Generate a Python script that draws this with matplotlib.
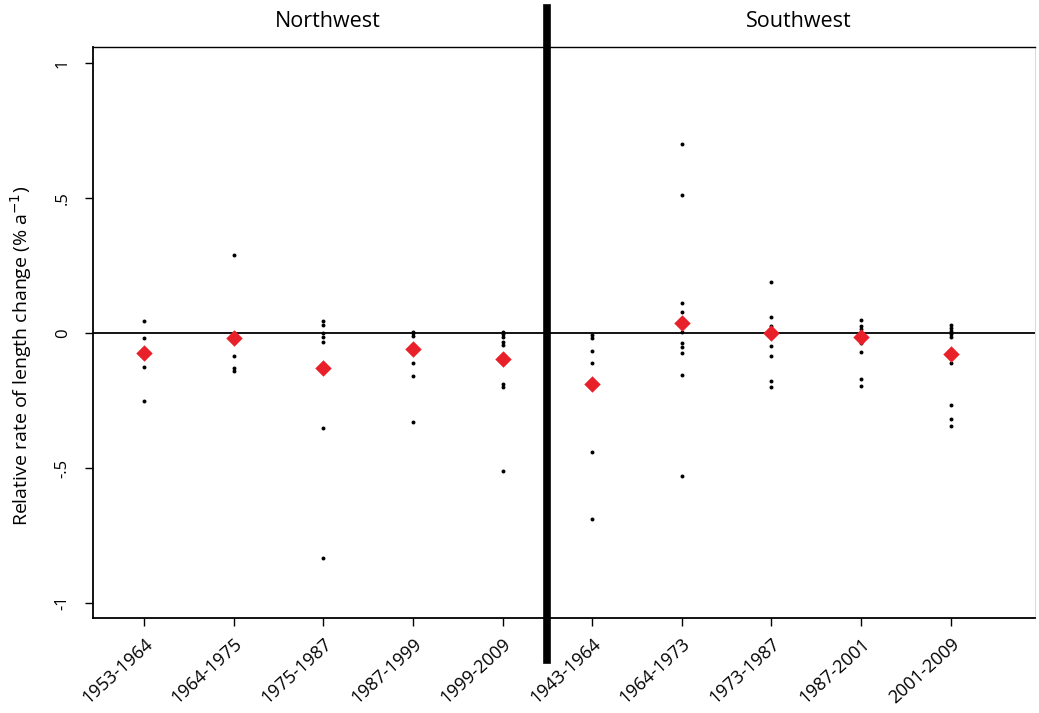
import numpy as np
import matplotlib
matplotlib.use("Agg")
import matplotlib.pyplot as plt

plt.rcParams['font.family'] = ['Open Sans', 'DejaVu Sans']

periods = ["1953-1964", "1964-1975", "1975-1987", "1987-1999", "1999-2009",
           "1943-1964", "1964-1973", "1973-1987", "1987-2001", "2001-2009"]
regions = ["Northwest", "Southwest"]

# individual glacier rates (% a-1)
glaciers = [
    [0.044, -0.017, -0.07, -0.126, -0.252],
    [0.29, 0.0, -0.085, -0.13, -0.14],
    [0.046, 0.03, 0.0, -0.015, -0.032, -0.35, -0.833],
    [0.005, 0.0, -0.01, -0.11, -0.16, -0.33],
    [0.005, -0.004, -0.014, -0.032, -0.044, -0.19, -0.2, -0.51],
    [-0.007, -0.017, -0.067, -0.11, -0.44, -0.69],
    [0.70, 0.51, 0.11, 0.078, 0.003, -0.036, -0.05, -0.074, -0.156, -0.53],
    [0.19, 0.059, 0.027, -0.047, -0.084, -0.178, -0.2],
    [0.05, 0.027, 0.015, -0.037, -0.07, -0.17, -0.196],
    [0.03, 0.02, 0.009, -0.004, -0.016, -0.11, -0.267, -0.32, -0.343],
]
# mean rate per period (red diamonds)
means = [-0.074, -0.02, -0.13, -0.06, -0.098, -0.19, 0.038, 0.0, -0.014, -0.078]

fig = plt.figure(figsize=(10.39, 7.13), dpi=100)
ax = fig.add_axes([0.0895, 0.133, 0.9065, 0.801])

for i, vals in enumerate(glaciers):
    ax.scatter(np.full(len(vals), i), vals, s=8, color="black", zorder=3, linewidths=0)
ax.scatter(np.arange(len(means)), means, marker="D", s=70, color="#e8202a",
           zorder=4, linewidths=0)

ax.axhline(0, color="black", lw=1.3, zorder=2)
ax.plot([4.5, 4.5], [1.204, -1.211], color="black", lw=5.5, clip_on=False, zorder=5)

ax.set_xlim(-0.57, 9.94)
ax.set_ylim(-1.056, 1.059)
ax.set_xticks(np.arange(len(periods)))
ax.set_xticklabels(periods, rotation=42, ha="right", rotation_mode="anchor", fontsize=13)
ax.set_yticks([1, 0.5, 0, -0.5, -1])
ax.set_yticklabels(["1", ".5", "0", "-.5", "-1"], rotation=90, va="center", fontsize=12)
ax.tick_params(length=6, width=1, pad=6)
ax.tick_params(axis="y", pad=10)
ax.set_ylabel("Relative rate of length change (% a$^{-1}$)", fontsize=14)
ax.yaxis.set_label_coords(-0.063, 0.46)

ax.text(2.05, 1.044, regions[0], transform=ax.get_xaxis_transform(), ha="center",
        va="center", fontsize=15.5)
ax.text(7.3, 1.044, regions[1], transform=ax.get_xaxis_transform(), ha="center",
        va="center", fontsize=15.5)

for s in ["left", "bottom"]:
    ax.spines[s].set_linewidth(1.3)
ax.spines["top"].set_linewidth(1.0)
ax.spines["right"].set_color("#dddddd")

fig.savefig("out.png", dpi=100)
